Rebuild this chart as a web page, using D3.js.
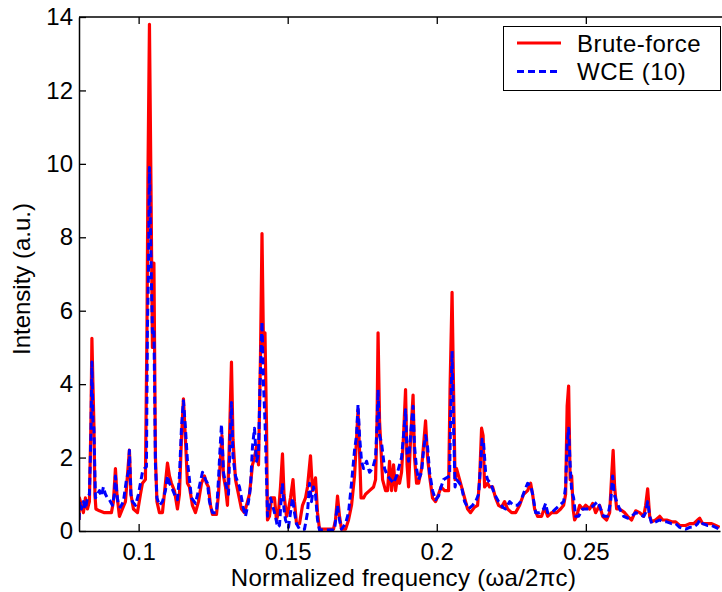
<!DOCTYPE html>
<html>
<head>
<meta charset="utf-8">
<script src="https://cdn.jsdelivr.net/npm/d3@7"></script>
<style>
  body { margin: 0; background: #fff; }
  svg text { font-family: "Liberation Sans", Arial, sans-serif; fill: #000; }
</style>
</head>
<body>
<div id="chart"></div>
<script>
// spectrum: [normalized frequency, intensity]
const bruteForce = [
  [0.0800,0.3],[0.08014,0.9],[0.08081,0.7],[0.08148,0.5],[0.08215,0.9],[0.08282,0.6],[0.08349,0.8],
  [0.08399,2.9],[0.08433,5.25],[0.08467,4.0],[0.08500,2.9],[0.08534,1.0],[0.08567,0.6],[0.08685,0.55],
  [0.08853,0.5],[0.09087,0.5],[0.09155,0.8],[0.09222,1.7],[0.09272,1.0],[0.09356,0.4],[0.09457,0.6],
  [0.09557,0.8],[0.09624,1.5],[0.09691,2.2],[0.09742,1.0],[0.09826,0.6],[0.09960,0.5],[0.10061,1.0],
  [0.10128,1.3],[0.10228,1.4],[0.10279,5.4],[0.10312,9.6],[0.10363,13.8],[0.10413,9.5],[0.10463,5.0],
  [0.10513,7.3],[0.10564,2.0],[0.10614,0.8],[0.10698,0.5],[0.10799,0.5],[0.10899,1.3],[0.10967,1.85],
  [0.11034,1.5],[0.11101,1.3],[0.11201,1.1],[0.11302,0.6],[0.11369,1.0],[0.11436,2.5],[0.11503,3.6],
  [0.11570,2.5],[0.11638,1.3],[0.11705,1.2],[0.11805,0.7],[0.11906,0.5],[0.12007,0.8],[0.12108,1.3],
  [0.12208,1.5],[0.12275,1.3],[0.12343,1.2],[0.12410,0.7],[0.12477,0.45],[0.12611,0.45],[0.12678,1.0],
  [0.12745,2.0],[0.12795,2.6],[0.12846,1.5],[0.12913,1.2],[0.12980,0.7],[0.13047,2.5],[0.13114,4.6],
  [0.13165,2.5],[0.13249,1.4],[0.13349,1.0],[0.13450,0.6],[0.13551,0.5],[0.13651,0.8],[0.13718,1.0],
  [0.13819,1.8],[0.13886,2.0],[0.13953,2.3],[0.14021,1.8],[0.14088,4.8],[0.14138,8.1],[0.14188,5.0],
  [0.14238,5.4],[0.14289,2.9],[0.14322,0.3],[0.14389,0.4],[0.14457,0.9],[0.14557,0.9],[0.14624,0.3],
  [0.14691,0.5],[0.14758,1.2],[0.14825,2.1],[0.14876,1.0],[0.14960,0.4],[0.15027,0.6],[0.15094,0.9],
  [0.15178,1.4],[0.15228,0.8],[0.15295,0.2],[0.15396,0.2],[0.15497,0.7],[0.15597,0.9],[0.15664,1.2],
  [0.15765,2.05],[0.15832,1.1],[0.15933,1.45],[0.16000,0.5],[0.16067,0.05],[0.16235,0.05],[0.16403,0.05],
  [0.16537,0.05],[0.16604,0.3],[0.16671,0.95],[0.16738,0.4],[0.16805,0.05],[0.16940,0.05],[0.17040,0.3],
  [0.17141,0.7],[0.17242,1.5],[0.17309,2.5],[0.17359,3.3],[0.17409,2.2],[0.17460,0.9],[0.17544,0.9],
  [0.17611,1.0],[0.17745,1.1],[0.17880,1.2],[0.17947,1.4],[0.17997,3.0],[0.18031,5.4],[0.18081,3.0],
  [0.18131,2.2],[0.18182,1.4],[0.18282,1.1],[0.18349,1.1],[0.18416,1.9],[0.18484,1.1],[0.18551,1.8],
  [0.18618,1.1],[0.18685,1.5],[0.18752,1.3],[0.18819,1.6],[0.18886,2.6],[0.18953,3.85],[0.19004,1.8],
  [0.19054,1.2],[0.19121,2.5],[0.19205,3.7],[0.19255,2.0],[0.19322,1.3],[0.19390,1.3],[0.19490,1.7],
  [0.19574,2.5],[0.19624,3.0],[0.19691,2.0],[0.19759,1.5],[0.19859,0.9],[0.19960,0.8],[0.20060,1.0],
  [0.20144,1.2],[0.20262,1.1],[0.20396,1.1],[0.20446,3.9],[0.20513,6.5],[0.20564,3.8],[0.20614,1.4],
  [0.20664,1.7],[0.20765,1.4],[0.20832,1.2],[0.20933,0.9],[0.21034,0.6],[0.21134,0.5],[0.21268,0.65],
  [0.21369,0.7],[0.21436,1.4],[0.21503,2.8],[0.21554,2.6],[0.21604,1.2],[0.21705,1.3],[0.21772,1.2],
  [0.21873,1.2],[0.21973,0.9],[0.22074,0.7],[0.22175,0.65],[0.22275,0.8],[0.22376,0.6],[0.22510,0.5],
  [0.22644,0.5],[0.22779,0.7],[0.22913,1.0],[0.23047,1.1],[0.23148,1.3],[0.23215,1.0],[0.23282,0.6],
  [0.23383,0.4],[0.23517,0.4],[0.23618,0.65],[0.23718,0.4],[0.23853,0.5],[0.24020,0.5],[0.24154,0.6],
  [0.24255,0.7],[0.24322,1.0],[0.24373,3.4],[0.24423,3.95],[0.24473,1.4],[0.24524,1.5],[0.24574,0.6],
  [0.24624,0.3],[0.24691,0.4],[0.24792,0.7],[0.24893,0.6],[0.24993,0.7],[0.25128,0.6],[0.25229,0.75],
  [0.25329,0.5],[0.25463,0.7],[0.25564,0.4],[0.25698,0.3],[0.25799,0.5],[0.25866,1.5],[0.25916,2.2],
  [0.25966,1.2],[0.26033,0.6],[0.26134,0.6],[0.26302,0.5],[0.26403,0.4],[0.26537,0.3],[0.26671,0.55],
  [0.26806,0.5],[0.26940,0.4],[0.27007,0.7],[0.27074,1.15],[0.27141,0.4],[0.27208,0.25],[0.27342,0.3],
  [0.27477,0.4],[0.27578,0.3],[0.27712,0.3],[0.27880,0.25],[0.28014,0.25],[0.28148,0.15],[0.28350,0.15],
  [0.28484,0.2],[0.28618,0.2],[0.28752,0.3],[0.28819,0.35],[0.28920,0.2],[0.29088,0.2],[0.29222,0.2],
  [0.29356,0.15],[0.29490,0.1]
];

const wce10 = [
  [0.0800,0.3],[0.08030,0.8],[0.08081,0.6],[0.08148,0.8],[0.08215,0.6],[0.08282,0.9],[0.08349,1.0],
  [0.08399,2.6],[0.08433,4.6],[0.08467,3.0],[0.08500,2.8],[0.08551,0.9],[0.08618,1.0],[0.08685,1.1],
  [0.08752,0.95],[0.08819,1.2],[0.08886,1.0],[0.08953,0.9],[0.09020,0.85],[0.09121,0.7],[0.09188,1.0],
  [0.09222,1.5],[0.09272,1.0],[0.09322,0.7],[0.09389,0.65],[0.09490,0.8],[0.09591,1.4],[0.09658,1.6],
  [0.09691,2.2],[0.09742,1.0],[0.09792,0.8],[0.09893,0.7],[0.09993,1.0],[0.10061,1.3],[0.10128,1.6],
  [0.10195,1.7],[0.10262,1.75],[0.10295,5.5],[0.10329,7.0],[0.10363,9.9],[0.10413,7.5],[0.10463,5.4],
  [0.10513,5.5],[0.10564,1.8],[0.10614,0.9],[0.10698,0.7],[0.10799,0.8],[0.10899,1.1],[0.10967,1.5],
  [0.11034,1.3],[0.11101,1.2],[0.11201,1.0],[0.11302,0.85],[0.11369,1.5],[0.11436,2.8],[0.11503,3.55],
  [0.11570,2.8],[0.11638,1.9],[0.11705,1.4],[0.11772,0.9],[0.11906,0.75],[0.12007,1.1],[0.12141,1.6],
  [0.12242,1.4],[0.12309,1.3],[0.12376,0.8],[0.12477,0.5],[0.12611,0.5],[0.12678,1.4],[0.12728,2.2],
  [0.12779,2.9],[0.12846,1.6],[0.12913,1.3],[0.13014,1.0],[0.13064,2.4],[0.13114,3.5],[0.13165,2.0],
  [0.13249,1.5],[0.13383,1.2],[0.13517,0.6],[0.13584,0.4],[0.13685,0.8],[0.13752,1.2],[0.13819,2.3],
  [0.13886,2.8],[0.13953,1.9],[0.14021,2.1],[0.14071,4.0],[0.14138,5.7],[0.14188,4.0],[0.14238,3.0],
  [0.14289,1.5],[0.14322,0.4],[0.14423,0.9],[0.14524,0.6],[0.14591,0.4],[0.14658,0.1],[0.14725,0.15],
  [0.14775,0.8],[0.14825,1.3],[0.14876,0.6],[0.14926,0.3],[0.15027,0.1],[0.15094,0.5],[0.15161,0.9],
  [0.15228,0.5],[0.15295,0.2],[0.15396,0.05],[0.15564,0.05],[0.15664,0.5],[0.15732,1.3],[0.15799,0.8],
  [0.15866,1.2],[0.15933,1.0],[0.16000,0.3],[0.16067,0.03],[0.16403,0.03],[0.16571,0.03],[0.16621,0.4],
  [0.16671,0.7],[0.16738,0.3],[0.16805,0.05],[0.16940,0.2],[0.17040,0.5],[0.17141,1.3],[0.17242,2.2],
  [0.17309,2.6],[0.17359,3.45],[0.17409,2.6],[0.17477,1.9],[0.17544,1.7],[0.17645,1.9],[0.17745,1.6],
  [0.17846,1.7],[0.17947,2.0],[0.17997,2.9],[0.18031,3.85],[0.18081,2.6],[0.18148,2.4],[0.18249,1.7],
  [0.18349,1.5],[0.18450,1.4],[0.18551,1.3],[0.18651,1.5],[0.18752,1.8],[0.18819,2.0],[0.18886,2.6],
  [0.18953,3.3],[0.19004,2.1],[0.19054,1.9],[0.19121,2.6],[0.19205,3.4],[0.19255,2.3],[0.19322,1.7],
  [0.19390,1.4],[0.19490,1.6],[0.19557,2.2],[0.19624,2.6],[0.19691,2.3],[0.19759,1.6],[0.19859,1.1],
  [0.19960,0.85],[0.20060,0.95],[0.20144,1.2],[0.20228,1.4],[0.20329,1.45],[0.20430,1.5],[0.20463,3.0],
  [0.20513,4.9],[0.20564,2.8],[0.20614,1.2],[0.20664,1.4],[0.20765,1.3],[0.20832,1.2],[0.20933,0.8],
  [0.21067,0.6],[0.21201,0.7],[0.21302,0.8],[0.21403,1.0],[0.21470,1.8],[0.21520,2.5],[0.21571,2.4],
  [0.21638,1.6],[0.21705,1.4],[0.21806,1.3],[0.21940,1.0],[0.22074,0.8],[0.22208,0.65],[0.22309,0.6],
  [0.22443,0.8],[0.22577,0.7],[0.22712,0.7],[0.22812,0.8],[0.22946,1.1],[0.23047,1.3],[0.23148,1.25],
  [0.23215,1.0],[0.23316,0.5],[0.23450,0.5],[0.23584,0.6],[0.23651,0.75],[0.23718,0.5],[0.23853,0.5],
  [0.23987,0.6],[0.24121,0.7],[0.24255,0.8],[0.24322,1.2],[0.24373,2.4],[0.24423,2.8],[0.24473,1.8],
  [0.24524,1.1],[0.24591,0.9],[0.24658,0.4],[0.24758,0.4],[0.24893,0.6],[0.25027,0.6],[0.25128,0.6],
  [0.25262,0.7],[0.25396,0.8],[0.25497,0.6],[0.25597,0.4],[0.25732,0.4],[0.25832,0.8],[0.25899,1.5],
  [0.25950,1.0],[0.26033,0.8],[0.26134,0.6],[0.26269,0.4],[0.26403,0.35],[0.26537,0.4],[0.26671,0.5],
  [0.26806,0.45],[0.26940,0.4],[0.27007,0.5],[0.27074,0.8],[0.27141,0.4],[0.27208,0.2],[0.27342,0.25],
  [0.27477,0.3],[0.27578,0.25],[0.27712,0.25],[0.27880,0.2],[0.28014,0.2],[0.28148,0.1],[0.28350,0.05],
  [0.28484,0.1],[0.28618,0.1],[0.28752,0.2],[0.28819,0.3],[0.28920,0.2],[0.29088,0.15],[0.29222,0.15],
  [0.29356,0.1],[0.29490,0.05]
];

const xTicks = [0.1, 0.15, 0.2, 0.25];
const xTickLabels = ["0.1", "0.15", "0.2", "0.25"];
const yTicks = [0, 2, 4, 6, 8, 10, 12, 14];
const seriesNames = ["Brute-force", "WCE (10)"];

const width = 722, height = 592;
const margin = {top: 17, right: 2, bottom: 61, left: 79};
const fontSize = "24px";

const svg = d3.select("#chart").append("svg")
    .attr("width", width)
    .attr("height", height);

const x = d3.scaleLinear()
    .domain([0.08, 0.295])
    .range([margin.left, width - margin.right]);

const y = d3.scaleLinear()
    .domain([0, 14])
    .range([height - margin.bottom, margin.top]);

svg.append("clipPath").attr("id", "plotClip")
  .append("rect")
    .attr("x", margin.left).attr("y", 0)
    .attr("width", width - margin.right - margin.left)
    .attr("height", height - margin.bottom);

const line = d3.line()
    .x(d => x(d[0]))
    .y(d => y(d[1]));

const plot = svg.append("g").attr("clip-path", "url(#plotClip)");

plot.append("path")
    .datum(bruteForce)
    .attr("fill", "none")
    .attr("stroke", "#ff0000")
    .attr("stroke-width", 3.2)
    .attr("stroke-linejoin", "round")
    .attr("d", line);

plot.append("path")
    .datum(wce10)
    .attr("fill", "none")
    .attr("stroke", "#0000ff")
    .attr("stroke-width", 3)
    .attr("stroke-dasharray", "7,4")
    .attr("stroke-linejoin", "round")
    .attr("d", line);

// axes, matlab style with inward ticks
const yAxis = svg.append("g")
    .attr("transform", `translate(${margin.left},0)`)
    .call(d3.axisLeft(y).tickValues(yTicks).tickSizeInner(-7).tickSizeOuter(0).tickPadding(6));

const xAxis = svg.append("g")
    .attr("transform", `translate(0,${height - margin.bottom})`)
    .call(d3.axisBottom(x).tickValues(xTicks).tickFormat((d, i) => xTickLabels[i])
          .tickSizeInner(-7).tickSizeOuter(0).tickPadding(12));

const xTop = svg.append("g")
    .attr("transform", `translate(0,${margin.top})`)
    .call(d3.axisTop(x).tickValues(xTicks).tickFormat("").tickSizeInner(-7).tickSizeOuter(0));

[yAxis, xAxis, xTop].forEach(g => {
  g.select(".domain").attr("stroke", "#000").attr("stroke-width", 1.5);
  g.selectAll(".tick line").attr("stroke", "#000").attr("stroke-width", 1.3);
  g.selectAll(".tick text")
    .style("font-family", "'Liberation Sans', Arial, sans-serif")
    .style("font-size", fontSize)
    .attr("fill", "#000");
});
xTop.select(".domain").attr("d", `M${margin.left},0H${width}`);

// axis titles
svg.append("text")
    .attr("x", (margin.left + width - margin.right) / 2 + 4)
    .attr("y", 586)
    .attr("text-anchor", "middle")
    .style("font-size", fontSize)
    .style("letter-spacing", "0.3px")
    .text("Normalized frequency (ωa/2πc)");

svg.append("text")
    .attr("transform", `translate(30,${(margin.top + height - margin.bottom) / 2 + 5}) rotate(-90)`)
    .attr("text-anchor", "middle")
    .style("font-size", fontSize)
    .text("Intensity (a.u.)");

// legend
const legend = svg.append("g");
legend.append("rect")
    .attr("x", 503.5).attr("y", 26.5)
    .attr("width", 217).attr("height", 64)
    .attr("fill", "#fff")
    .attr("stroke", "#000")
    .attr("stroke-width", 1);

const legendStyles = [
  {color: "#ff0000", dash: null},
  {color: "#0000ff", dash: "7,4"}
];
seriesNames.forEach((name, i) => {
  const ly = 43 + i * 28.5;
  legend.append("line")
      .attr("x1", 517).attr("x2", 561)
      .attr("y1", ly).attr("y2", ly)
      .attr("stroke", legendStyles[i].color)
      .attr("stroke-width", 3)
      .attr("stroke-dasharray", legendStyles[i].dash);
  legend.append("text")
      .attr("x", 577).attr("y", ly + 8.5)
      .style("font-size", fontSize)
      .style("letter-spacing", "0.5px")
      .text(name);
});
</script>
</body>
</html>
